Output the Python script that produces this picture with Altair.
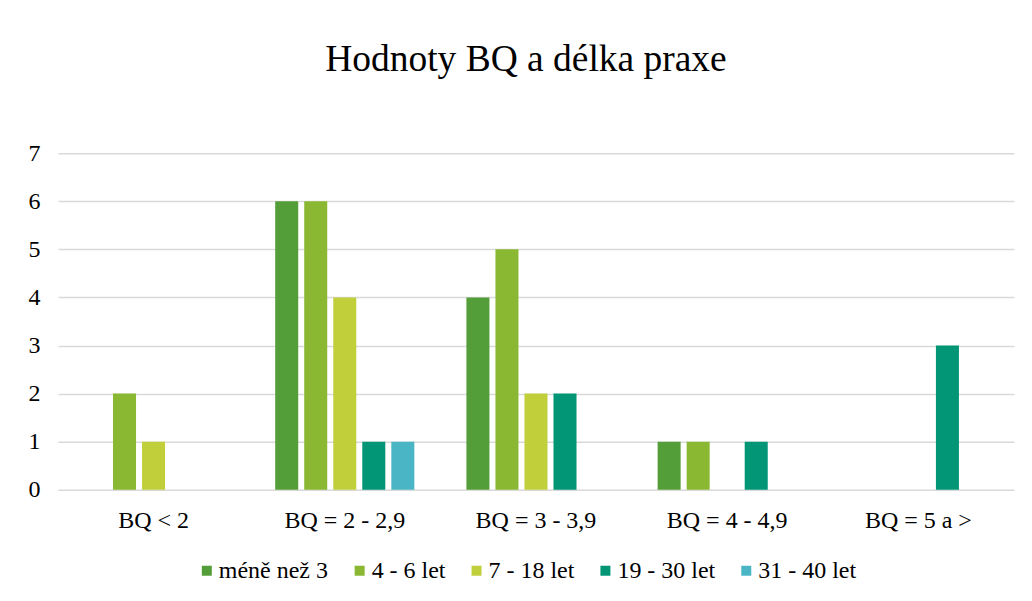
import altair as alt
import pandas as pd

categories = ["BQ < 2", "BQ = 2 - 2,9", "BQ = 3 - 3,9", "BQ = 4 - 4,9", "BQ = 5 a >"]
series = ["méně než 3", "4 - 6 let", "7 - 18 let", "19 - 30 let", "31 - 40 let"]
v_mene_3 = [0, 6, 4, 1, 0]
v_4_6 = [2, 6, 5, 1, 0]
v_7_18 = [1, 4, 2, 0, 0]
v_19_30 = [0, 1, 2, 1, 3]
v_31_40 = [0, 1, 0, 0, 0]
colors = ["#549E39", "#8AB833", "#C0CF3A", "#029676", "#4AB5C4"]
y_ticks = [0, 1, 2, 3, 4, 5, 6, 7]

values = [v_mene_3, v_4_6, v_7_18, v_19_30, v_31_40]
rows = []
for s, vals in zip(series, values):
    for c, v in zip(categories, vals):
        rows.append({"kategorie": c, "serie": s, "hodnota": v})
df = pd.DataFrame(rows)

FONT = "Liberation Serif, Times New Roman, serif"

chart = (
    alt.Chart(df)
    .mark_bar()
    .encode(
        x=alt.X(
            "kategorie:N",
            sort=categories,
            scale=alt.Scale(domain=categories, paddingInner=0, paddingOuter=0),
            axis=alt.Axis(
                title=None, labelAngle=0, domain=False, ticks=False,
                labelPadding=19,
            ),
        ),
        xOffset=alt.XOffset(
            "serie:N",
            sort=series,
            scale=alt.Scale(domain=series, paddingInner=0.207, paddingOuter=0.897),
        ),
        y=alt.Y(
            "hodnota:Q",
            scale=alt.Scale(domain=[0, 7], nice=False),
            axis=alt.Axis(
                title=None, values=y_ticks, domain=False, ticks=False,
                labelPadding=18, gridColor="#D9D9D9", gridWidth=1.5,
            ),
        ),
        color=alt.Color(
            "serie:N",
            sort=series,
            scale=alt.Scale(domain=series, range=colors),
            legend=alt.Legend(
                title=None, orient="none", direction="horizontal",
                legendX=137, legendY=406,
                symbolType="square", symbolSize=100, symbolStrokeWidth=0,
                columnPadding=19, labelOffset=0,
            ),
        ),
    )
    .properties(
        width=957,
        height=337,
        padding={"left": 20, "top": 32, "right": 10, "bottom": 5},
        title=alt.TitleParams(
            "Hodnoty BQ a délka praxe", fontSize=37.5, dx=-10,
            fontWeight="normal", color="#000000", anchor="middle", offset=63,
        ),
    )
    .configure(font=FONT)
    .configure_axis(labelFont=FONT, labelFontSize=24, labelColor="#000000")
    .configure_legend(labelFont=FONT, labelFontSize=24, labelColor="#000000")
    .configure_title(font=FONT)
    .configure_view(stroke=None)
)

chart.save("out.html", embed_options={"renderer": "svg", "actions": False})
